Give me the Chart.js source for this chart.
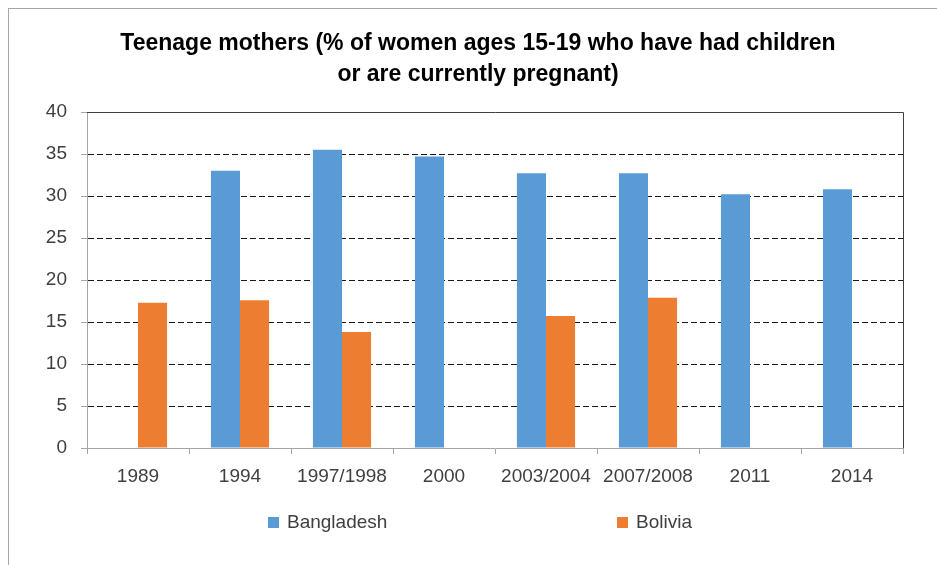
<!DOCTYPE html>
<html lang="en">
<head>
  <meta charset="UTF-8">
  <title>Teenage mothers</title>
  <script src="https://cdn.jsdelivr.net/npm/chart.js"></script>
  <style>
    html, body { margin: 0; padding: 0; background: #fff; }
    #wrap { position: relative; width: 937px; height: 565px; }
    #frame {
      position: absolute; left: 8px; top: 8px; right: 0; bottom: 0;
      border-left: 1px solid #a6a6a6; border-top: 1px solid #a6a6a6;
      pointer-events: none;
    }
    canvas { position: absolute; left: 0; top: 0; }
    #title {
      position: absolute; left: 20px; width: 916px; top: 27px;
      text-align: center; font: bold 23px/31px "Liberation Sans", Arial, sans-serif; color: #000;
    }
    .legend-item {
      position: absolute; top: 511px;
      font: 19px "Liberation Sans", Arial, sans-serif; color: #404040;
      display: flex; align-items: center;
    }
    .legend-item span.box { width: 11px; height: 11px; margin-right: 8px; display: inline-block; }
  </style>
</head>
<body>

<div id="wrap">
  <canvas id="chart" width="937" height="565"></canvas>
  <div id="frame"></div>
  <div id="title">Teenage mothers (% of women ages 15-19 who have had children<br>or are currently pregnant)</div>
  <div class="legend-item" style="left:268px"><span class="box" style="background:#5b9bd5"></span>Bangladesh</div>
  <div class="legend-item" style="left:617px"><span class="box" style="background:#ed7d31"></span>Bolivia</div>
</div>

<script>
  const years = ['1989', '1994', '1997/1998', '2000', '2003/2004', '2007/2008', '2011', '2014'];
  const bangladesh = [null, 33.0, 35.5, 34.7, 32.7, 32.7, 30.2, 30.8];
  const bolivia = [17.3, 17.6, 13.8, null, 15.7, 17.9, null, null];
  const yTicks = [0, 5, 10, 15, 20, 25, 30, 35, 40];

  const FONT = '"Liberation Sans", Arial, sans-serif';

  // dark line on top and right of the plot area (Excel plot frame)
  const plotFrame = {
    id: 'plotFrame',
    afterDraw(chart) {
      const a = chart.chartArea;
      const ctx = chart.ctx;
      ctx.save();
      ctx.strokeStyle = '#404040';
      ctx.lineWidth = 1;
      ctx.beginPath();
      ctx.moveTo(a.left, a.top + 0.5);
      ctx.lineTo(a.right + 0.5, a.top + 0.5);
      ctx.lineTo(a.right + 0.5, a.bottom);
      ctx.stroke();
      ctx.restore();
    }
  };

  new Chart(document.getElementById('chart'), {
    type: 'bar',
    data: {
      labels: years,
      datasets: [
        { label: 'Bangladesh', data: bangladesh, backgroundColor: '#5b9bd5' },
        { label: 'Bolivia', data: bolivia, backgroundColor: '#ed7d31' }
      ]
    },
    options: {
      responsive: false,
      animation: false,
      layout: { padding: { left: 0, right: 34, top: 112, bottom: 77 } },
      categoryPercentage: 0.57,
      barPercentage: 1.0,
      plugins: {
        legend: { display: false },
        tooltip: { enabled: false },
        title: { display: false }
      },
      scales: {
        x: {
          afterFit: s => { s.height = 40; },
          grid: { display: true, drawOnChartArea: false, color: '#a6a6a6', tickLength: 6, offset: true },
          border: { color: '#a6a6a6' },
          ticks: { color: '#404040', font: { family: FONT, size: 19 }, padding: 11, maxRotation: 0, autoSkip: false }
        },
        y: {
          min: 0,
          max: 40,
          afterFit: s => { s.width = 87; },
          afterBuildTicks: s => { s.ticks = yTicks.map(v => ({ value: v })); },
          grid: {
            color: c => (c.tick && (c.tick.value === 0 || c.tick.value === 40)) ? 'rgba(0,0,0,0)' : '#1a1a1a',
            tickColor: '#a6a6a6',
            tickLength: 6,
            lineWidth: 1
          },
          border: { color: '#a6a6a6', dash: [6, 3] },
          ticks: { color: '#404040', font: { family: FONT, size: 19 }, padding: 14 }
        }
      }
    },
    plugins: [plotFrame]
  });
</script>
</body>
</html>
